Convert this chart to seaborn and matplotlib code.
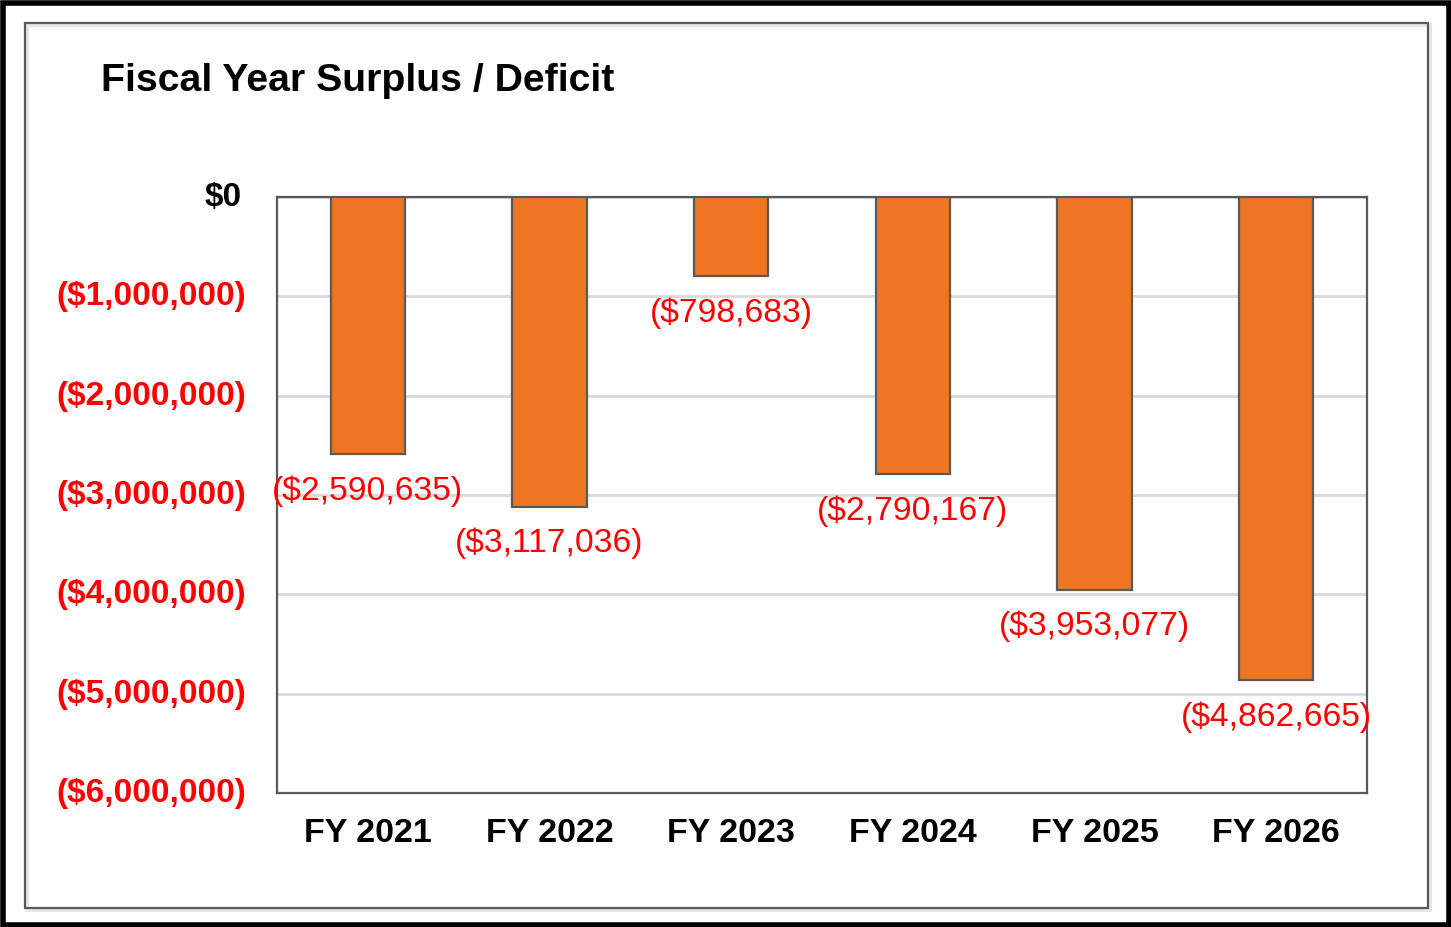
import matplotlib
matplotlib.use("Agg")
import matplotlib.pyplot as plt
import matplotlib.transforms as mtransforms
import seaborn as sns
import pandas as pd
from matplotlib.patches import Rectangle

categories = ["FY 2021", "FY 2022", "FY 2023", "FY 2024", "FY 2025", "FY 2026"]
values = [-2590635, -3117036, -798683, -2790167, -3953077, -4862665]
ytick_values = [0, -1000000, -2000000, -3000000, -4000000, -5000000, -6000000]
title = "Fiscal Year Surplus / Deficit"

def fmt(v):
    return "$0" if v == 0 else "(${:,.0f})".format(abs(v))

sns.set_theme(style="white")
plt.rcParams['font.family'] = ['Liberation Sans', 'DejaVu Sans']

df = pd.DataFrame({"cat": categories, "val": values})

fig = plt.figure(figsize=(14.51, 9.27), dpi=100)
ax = fig.add_axes([277/1451, 1-793/927, (1367-277)/1451, (793-197)/927])

sns.barplot(data=df, x="cat", y="val", color="#EE7623", saturation=1,
            width=0.41, edgecolor="#595959", linewidth=1.6, ax=ax, zorder=3)

ax.set_ylim(-6000000, 0)
ax.set_yticks(ytick_values)
ax.set_yticklabels([fmt(v) for v in ytick_values])
ax.set_xlabel("")
ax.set_ylabel("")
ax.yaxis.grid(True, color="#D9D9D9", linewidth=2, zorder=0)
ax.xaxis.grid(False)
ax.set_axisbelow(True)
for s in ax.spines.values():
    s.set_visible(True)
    s.set_color("#595959")
    s.set_linewidth(1.6)
ax.tick_params(axis="y", length=0, pad=22)
ax.tick_params(axis="x", length=0, pad=18)
shift_up = mtransforms.ScaledTranslation(0, 3/100, fig.dpi_scale_trans)
for lbl, v in zip(ax.get_yticklabels(), ytick_values):
    lbl.set_fontsize(24)
    lbl.set_fontweight("bold")
    lbl.set_color("black" if v == 0 else "#FF0000")
    lbl.set_transform(lbl.get_transform() + shift_up)
    if v == 0:
        lbl.set_x(-0.004)
for lbl in ax.get_xticklabels():
    lbl.set_fontsize(24.5)
    lbl.set_fontweight("bold")
    lbl.set_color("black")

for i, v in enumerate(values):
    ax.annotate(fmt(v), xy=(i, v), xytext=(0, -26.5), textcoords="offset points",
                ha="center", va="center", color="#FF0000", fontsize=24.2, zorder=5,
                annotation_clip=False)

fig.text(101/1451, 1-81/927, title, ha="left", va="center", fontsize=28.3,
         fontweight="bold", color="black")

# frames
fig.patches.append(Rectangle((27/1451, 1-910/927), (1430-27)/1451, (910-25)/927,
                             transform=fig.transFigure, fill=False,
                             edgecolor="#E6E6E6", linewidth=3, zorder=0))
fig.patches.append(Rectangle((25/1451, 1-908/927), (1428-25)/1451, (908-23)/927,
                             transform=fig.transFigure, fill=False,
                             edgecolor="#595959", linewidth=1.6, zorder=1))
fig.patches.append(Rectangle((2.5/1451, 2.5/927), (1451-5)/1451, (927-5)/927,
                             transform=fig.transFigure, fill=False,
                             edgecolor="black", linewidth=4, zorder=2))

fig.savefig("out.png", dpi=100)
